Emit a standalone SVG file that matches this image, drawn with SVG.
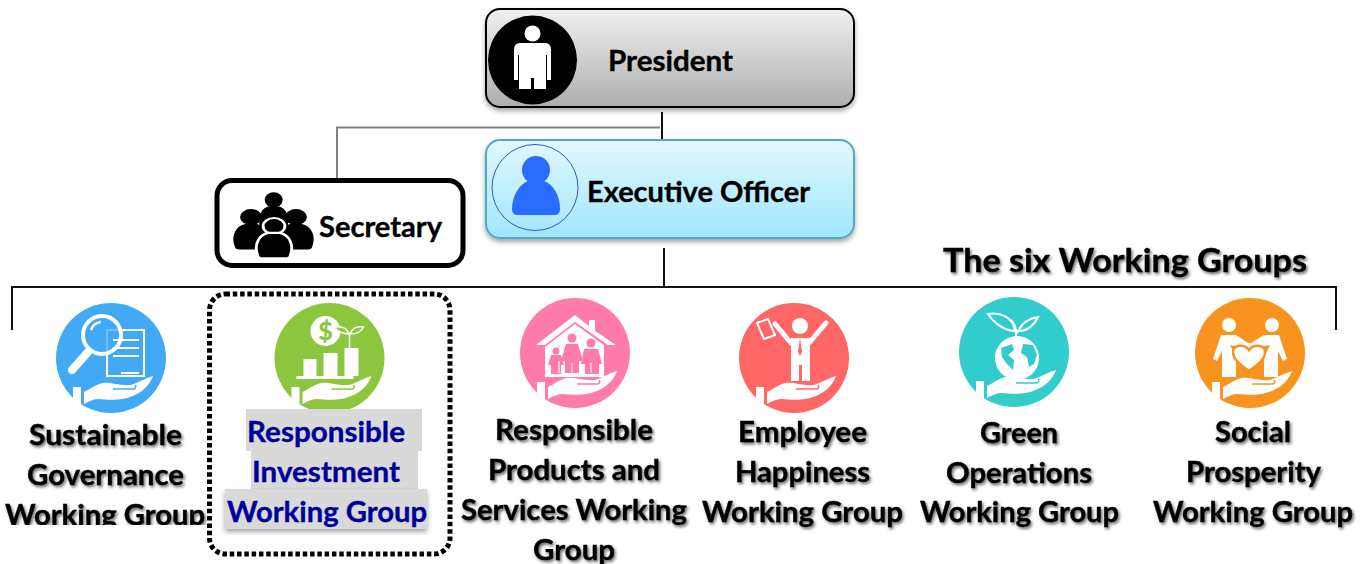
<svg xmlns="http://www.w3.org/2000/svg" xmlns:xlink="http://www.w3.org/1999/xlink" width="1372" height="564" viewBox="0 0 1372 564">
<style>
text{font-family:Lato,"Liberation Sans",sans-serif;font-weight:700;fill:#000;stroke:#000;stroke-width:.35}
.l{font-size:28px}
.sh{filter:url(#ts)}
.blue text{fill:#000099;stroke:#000099}
.ic{fill:#fff}
.ol{fill:none;stroke:#fff;stroke-width:2}
.con{fill:none;stroke:#111;stroke-width:2}
</style>
<defs>
<linearGradient id="gp" x1="0" y1="0" x2="0" y2="1"><stop offset="0" stop-color="#f0f0f0"/><stop offset="1" stop-color="#aeaeae"/></linearGradient>
<linearGradient id="ge" x1="0" y1="0" x2="0" y2="1"><stop offset="0" stop-color="#e2f8ff"/><stop offset="1" stop-color="#a0e6fd"/></linearGradient>
<filter id="ts" x="-10%" y="-10%" width="120%" height="130%"><feDropShadow dx="1.5" dy="2" stdDeviation="1.8" flood-color="#000" flood-opacity=".6"/></filter>
<filter id="bs" x="-5%" y="-10%" width="110%" height="125%"><feDropShadow dx="0" dy="3" stdDeviation="2.5" flood-color="#000" flood-opacity=".35"/></filter>
<clipPath id="c1"><rect x="0" y="420" width="207" height="105"/></clipPath>
<g id="hand">
<path class="ic" d="M-38,29h8v19l-8,-6z"/>
<path class="ic" d="M-27,34C-20,31-15,26-8,25C0,24 8,28 20,27C27,25 34,20 42,18C39,26 33,33 24,37C12,43-2,42-12,41C-17,41-22,43-27,46z"/>
<path d="M2,31H23Q26,29 24,27" fill="none" stroke="currentColor" stroke-width="1.5"/>
</g>
<g id="fig"><circle cx="0" cy="-14" r="9.5"/><path d="M-14,21C-18,8-13,-4-5,-6H5C13,-4 18,8 14,21Q14,24 10,24H-10Q-14,24-14,21z"/></g>
</defs>

<g id="connectors">
<path d="M337,178V127.5H660" fill="none" stroke="#808080" stroke-width="2"/>
<path class="con" d="M662,112V140"/>
<path class="con" d="M664,248V287"/>
<path class="con" d="M12,330V287H1336V330"/>
</g>

<g id="president">
<rect x="486" y="9" width="368" height="98" rx="14" fill="url(#gp)" stroke="#000" stroke-width="2" filter="url(#bs)"/>
<circle cx="532.5" cy="60" r="44.5" fill="#000"/>
<circle cx="532.5" cy="33.5" r="8" fill="#fff"/>
<path class="ic" d="M520,43H545Q551,43 551,50V80H547V55H546V89H534V78H531V89H519V55H518V80H514V50Q514,43 520,43z"/>
<text x="608" y="70.500" font-size="29" textLength="125" lengthAdjust="spacingAndGlyphs">President</text>
</g>

<g id="executive-officer">
<rect x="486" y="140" width="368" height="98" rx="14" fill="url(#ge)" stroke="#4eacc5" stroke-width="2" filter="url(#bs)"/>
<circle cx="535" cy="187.500" r="43" fill="none" stroke="#3355cc" stroke-width="1"/>
<ellipse cx="536" cy="170" rx="14" ry="14" fill="#2a6cff"/>
<path fill="#2a6cff" d="M512,209C512,195 520,184 528,181H544C553,184 560,195 560,209Q560,215 554,215H518Q512,215 512,209z"/>
<text x="587" y="202" font-size="29" textLength="223" lengthAdjust="spacingAndGlyphs">Executive Officer</text>
</g>

<g id="secretary">
<rect x="217" y="180.500" width="246" height="85" rx="15" fill="#fff" stroke="#000" stroke-width="5"/>
<use xlink:href="#fig" href="#fig" transform="translate(273.700,211) scale(.95,.8)"/>
<use xlink:href="#fig" href="#fig" transform="translate(251,229) scale(1.15,.85)"/>
<use xlink:href="#fig" href="#fig" transform="translate(296,229) scale(1.15,.85)"/>
<use xlink:href="#fig" href="#fig" transform="translate(274,238) scale(1.15,.85)" stroke="#fff" stroke-width="2.500"/>
<text x="319" y="236.500" font-size="29" textLength="123" lengthAdjust="spacingAndGlyphs">Secretary</text>
</g>

<g id="title" class="sh"><text x="943" y="272" font-size="32" textLength="364" lengthAdjust="spacingAndGlyphs">The six Working Groups</text></g>

<g id="wg-governance">
<g transform="translate(111,358)" style="color:#42aaf5">
<circle r="55" fill="#42aaf5"/>
<path class="ol" d="M-4,-28H33V18H-4z"/>
<use xlink:href="#hand" href="#hand"/>
<circle cx="-9" cy="-23" r="19" fill="#42aaf5" fill-opacity=".75" stroke="#fff" stroke-width="4"/>
<path d="M2,-18H28M2,-10H28M2,-2H28M10,15H28" stroke="#fff" stroke-width="2" fill="none"/>
<path d="M-23,-6L-39,12" stroke="#fff" stroke-width="8" stroke-linecap="round"/>
<path d="M-20,-28A12,12 0 0 1 -10,-36" fill="none" stroke="#fff" stroke-width="2.500"/>
</g>
<g class="sh" clip-path="url(#c1)">
<text class="l" x="29" y="445" textLength="153" lengthAdjust="spacingAndGlyphs">Sustainable</text>
<text class="l" x="27" y="485" textLength="157" lengthAdjust="spacingAndGlyphs">Governance</text>
<text class="l" x="5" y="525" textLength="200" lengthAdjust="spacingAndGlyphs">Working Group</text>
</g>
</g>

<g id="wg-investment">
<rect x="209.500" y="294" width="240.500" height="260" rx="16" fill="none" stroke="#000" stroke-width="5" stroke-dasharray="4.500 2.800"/>
<g transform="translate(329.500,358)" style="color:#8cc63f">
<circle r="55" fill="#8cc63f"/>
<use xlink:href="#hand" href="#hand"/>
<circle cx="-4" cy="-27" r="15" fill="#fff"/>
<text x="-4" y="-18" font-size="25" text-anchor="middle" style="fill:#8cc63f;stroke:#8cc63f">$</text>
<path class="ic" d="M-26,1H-13V18H-26zM-6,-5H8V18H-6zM15,-10H29V18H15zM-33,18H24V21H-33z"/>
<path d="M20,-10V-26" stroke="#fff" stroke-width="1.500"/>
<path d="M19,-24C14,-24 7,-27 5,-31C12,-32 18,-30 19,-24zM21,-24C22,-30 28,-32 34,-31C32,-27 27,-24 21,-24z" fill="#8cc63f" stroke="#fff" stroke-width="1.500"/>
</g>
<g class="blue">
<rect x="246" y="409" width="176" height="42" fill="#d9d9d9"/>
<rect x="251" y="450" width="167" height="40" fill="#d9d9d9"/>
<rect x="225" y="489" width="202" height="40" fill="#d9d9d9" filter="url(#bs)"/>
<text class="l" x="247" y="442" textLength="158" lengthAdjust="spacingAndGlyphs">Responsible</text>
<text class="l" x="252" y="482" textLength="148" lengthAdjust="spacingAndGlyphs">Investment</text>
<text class="l" x="227" y="522" textLength="200" lengthAdjust="spacingAndGlyphs">Working Group</text>
</g>
</g>

<g id="wg-products">
<g transform="translate(575,353)" style="color:#ff7bac">
<circle r="55" fill="#ff7bac"/>
<path class="ic" d="M-39,-8L0,-38L14,-27V-33H20V-22L41,-8L33,-8L0,-31L-30,-8V-6L0,-29L29,-8V24H-30V-8z"/>
<g fill="#ff7bac">
<circle cx="-19" cy="-2" r="3.500"/><path d="M-24,2H-14L-11,12H-14V21H-24V12H-27z"/>
<circle cx="-3" cy="-15" r="4.500"/><path d="M-9,-9H3L8,8H4V20H-10V8H-14z"/>
<circle cx="16" cy="-10" r="4.500"/><path d="M9,-4H23L27,11H24V21H10V11H6z"/>
</g>
<path d="M-16,8V20M-3,10V20M16,10V20" stroke="#fff" stroke-width="1"/>
<use xlink:href="#hand" href="#hand"/>
</g>
<g class="sh">
<text class="l" x="495" y="440" textLength="158" lengthAdjust="spacingAndGlyphs">Responsible</text>
<text class="l" x="488" y="480" textLength="172" lengthAdjust="spacingAndGlyphs">Products and</text>
<text class="l" x="461" y="520" textLength="226" lengthAdjust="spacingAndGlyphs">Services Working</text>
<text class="l" x="533" y="560" textLength="82" lengthAdjust="spacingAndGlyphs">Group</text>
</g>
</g>

<g id="wg-employee">
<g transform="translate(794,358)" style="color:#ff6666">
<circle r="55" fill="#ff6666"/>
<circle cx="6" cy="-32" r="8" fill="#fff"/>
<path d="M-19,-34L-3,-15M32,-35L15,-15" stroke="#fff" stroke-width="5" stroke-linecap="round"/>
<path class="ic" d="M-3,-20H16V23H8V7H5V23H-3z"/>
<path d="M6,-20L4,-6L6,-2L8,-6z" fill="#ff6666"/>
<path d="M-37,-35L-26,-39L-19,-23L-30,-19z" fill="none" stroke="#fff" stroke-width="2" stroke-linejoin="round"/>
<use xlink:href="#hand" href="#hand"/>
</g>
<g class="sh">
<text class="l" x="738" y="442" textLength="129" lengthAdjust="spacingAndGlyphs">Employee</text>
<text class="l" x="735" y="482" textLength="135" lengthAdjust="spacingAndGlyphs">Happiness</text>
<text class="l" x="702" y="521.500" textLength="201" lengthAdjust="spacingAndGlyphs">Working Group</text>
</g>
</g>

<g id="wg-green">
<g transform="translate(1014,352)" style="color:#33cccc">
<circle r="55" fill="#33cccc"/>
<circle cx="3" cy="6" r="22" fill="#fff"/>
<path fill="#33cccc" d="M-13,-4L-2,-8L0,-2L-6,3L0,8L-1,18L-7,12L-12,5zM9,-8L19,-7L23,3L20,12L15,15L13,5L7,1z"/>
<use xlink:href="#hand" href="#hand"/>
<path d="M2,-15V-22C1,-27-1,-30-3,-32M3,-19C6,-25 9,-27 13,-29" stroke="#fff" stroke-width="2" fill="none"/>
<path d="M1,-21C-12,-21-23,-33-26,-38C-15,-40-1,-36 1,-21zM5,-21C7,-29 16,-34 24,-35C21,-28 14,-21 5,-21z" fill="#33cccc" stroke="#fff" stroke-width="2"/>
</g>
<g class="sh">
<text class="l" x="980" y="443" textLength="78" lengthAdjust="spacingAndGlyphs">Green</text>
<text class="l" x="946" y="483" textLength="146" lengthAdjust="spacingAndGlyphs">Operations</text>
<text class="l" x="920" y="522" textLength="199" lengthAdjust="spacingAndGlyphs">Working Group</text>
</g>
</g>

<g id="wg-social">
<g transform="translate(1250,353)" style="color:#f7931e">
<circle r="55" fill="#f7931e"/>
<circle cx="-21" cy="-28" r="7" fill="#fff"/>
<circle cx="22" cy="-28" r="7" fill="#fff"/>
<path class="ic" d="M-29,-18H-14L-2,-10L1,-10L14,-18H29L37,6L33,8L28,-2V24H14V4L20,-8L0,-4L-20,-8L-14,4V24H-28V-2L-33,8L-37,6z"/>
<path d="M-1,18C-8,13-17,7-17,-1C-17,-9-5,-9-1,-3C3,-9 15,-9 15,-1C15,7 6,13-1,18z" fill="#fff" stroke="#f7931e" stroke-width="2.500"/>
<use xlink:href="#hand" href="#hand"/>
</g>
<g class="sh">
<text class="l" x="1215" y="442" textLength="76" lengthAdjust="spacingAndGlyphs">Social</text>
<text class="l" x="1186" y="482" textLength="135" lengthAdjust="spacingAndGlyphs">Prosperity</text>
<text class="l" x="1153" y="522" textLength="200" lengthAdjust="spacingAndGlyphs">Working Group</text>
</g>
</g>
</svg>
